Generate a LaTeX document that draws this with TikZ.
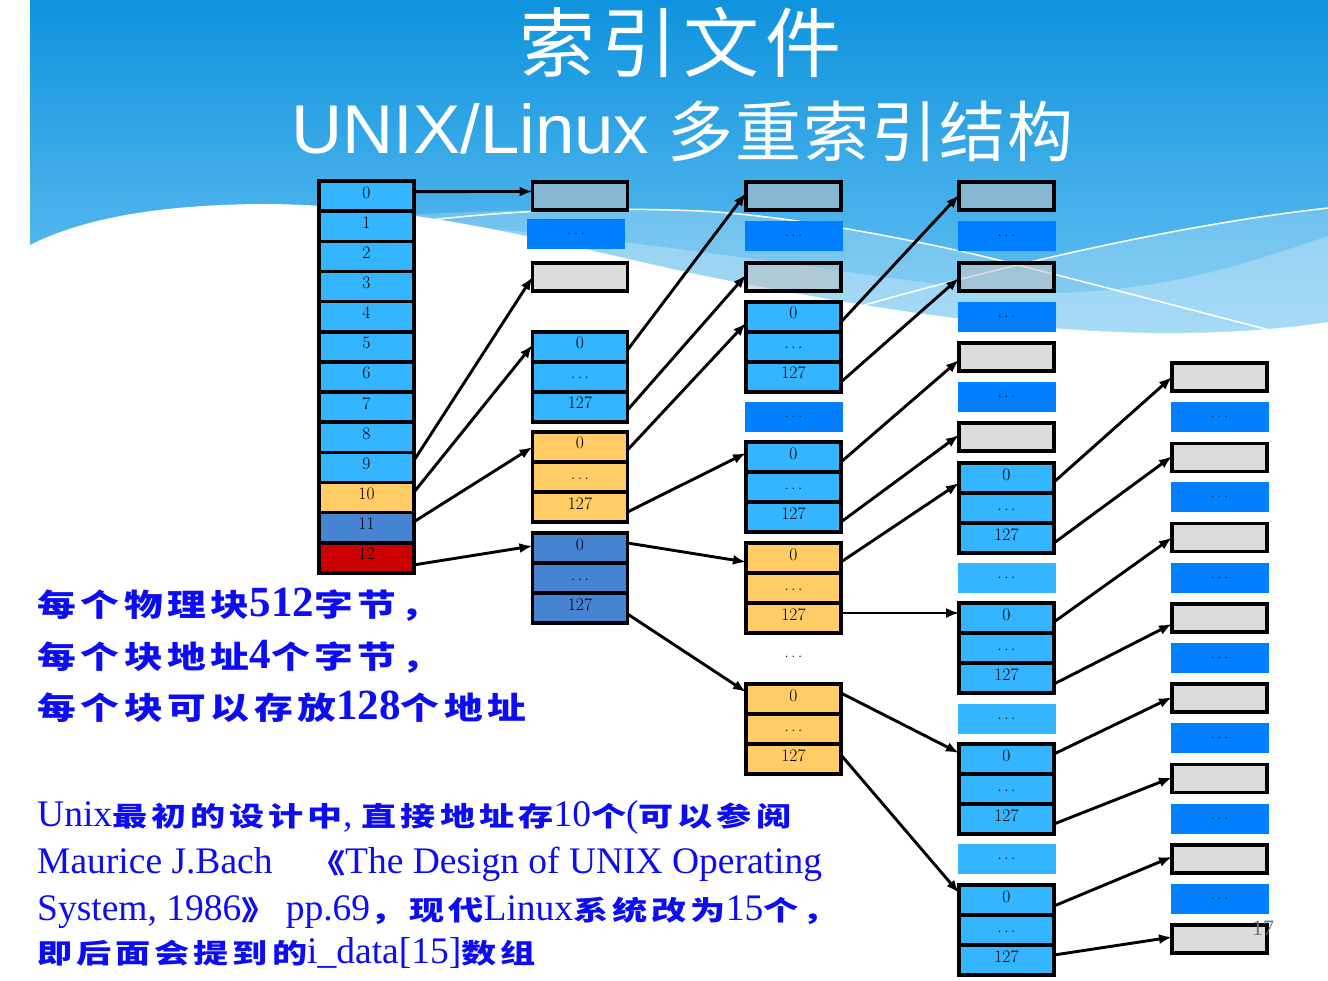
\documentclass[tikz,border=0pt]{standalone}
\usepackage{fontspec}
\usetikzlibrary{arrows.meta}
\newfontfamily\tnr{Liberation Serif}
\newfontfamily\lsans{Liberation Sans}
\newfontfamily\cjkA[FakeStretch=1.25,LetterSpace=15]{Noto Sans CJK SC}
\newfontfamily\cjkP[FakeStretch=1.3,LetterSpace=15]{Noto Sans CJK SC}
\newfontfamily\cjkT[LetterSpace=8]{Noto Sans CJK SC}
\newfontfamily\cjkU[LetterSpace=3]{Noto Sans CJK SC}
\definecolor{cellblue}{RGB}{51,182,255}
\definecolor{dotblue}{RGB}{0,128,255}
\definecolor{cellorange}{RGB}{255,204,102}
\definecolor{cellsteel}{RGB}{70,132,210}
\definecolor{cellred}{RGB}{204,0,0}
\definecolor{boxgray}{RGB}{192,192,192}
\definecolor{txtblue}{RGB}{12,12,245}
\definecolor{skytop}{RGB}{14,147,222}
\definecolor{skybot}{RGB}{110,197,243}
\definecolor{pagegray}{RGB}{105,110,120}
\newcommand\labfont{\fontsize{17.5pt}{20pt}\selectfont}
\newcommand\dotsfont{\fontsize{17pt}{18pt}\selectfont}
\newcommand\tdots{.\kern0.15em.\kern0.15em.}
\newcommand\tcj{\fontsize{31pt}{36pt}\cjkA\bfseries}
\newcommand\tlat{\fontsize{43pt}{46pt}\tnr}
\newcommand\pcj{\fontsize{27pt}{32pt}\cjkP\bfseries}
\newcommand\plat{\fontsize{37.5pt}{42pt}\tnr}
\newcommand{\idxblock}[4]{%
  \node[cellbase, fill=#4] (#1r0) at (#2,#3+15) {0};
  \node[cellbase, fill=#4] (#1r1) at (#2,#3+45) {\dotsfont\tdots};
  \node[cellbase, fill=#4] (#1r2) at (#2,#3+75) {127};
}
\tikzset{
  cellbase/.style={draw=black, line width=3.6pt, inner sep=0pt, outer sep=0pt,
    minimum width=95pt, minimum height=30pt, text height=12pt, text depth=8pt, font=\labfont},
  gbox/.style={draw=black, line width=3.6pt, fill=boxgray, fill opacity=0.54, draw opacity=1,
    minimum width=95pt, minimum height=28pt, inner sep=0pt, outer sep=0pt},
  dbox/.style={fill=dotblue, minimum width=98pt, minimum height=30pt, inner sep=0pt, outer sep=0pt, font=\dotsfont},
  lbox/.style={dbox, fill=cellblue},
  arr/.style={draw=black, line width=2.9pt, -{Latex[length=13pt,width=10pt]}},
  btxt/.style={anchor=base west, inner sep=0pt, text=txtblue},
}
\begin{document}
\begin{tikzpicture}[x=1pt,y=-1pt]
\useasboundingbox (0,0) rectangle (1328,981);
% background
\fill[white] (0,0) rectangle (1328,981);
\shade[top color=skytop, bottom color=skybot] (30,0) rectangle (1328,350);
\fill[white, fill opacity=0.22] (380,216) .. controls (500,210) and (600,207) .. (700,211)
  .. controls (800,216) and (950,247) .. (1018,265)
  .. controls (1120,240) and (1230,218) .. (1328,208) -- (1328,400) -- (380,400) -- cycle;
\fill[white, fill opacity=0.25] (430,226) .. controls (600,232) and (800,268) .. (1000,292)
  .. controls (1150,300) and (1250,262) .. (1328,236) -- (1328,400) -- (430,400) -- cycle;
\fill[white] (30,245) .. controls (90,215) and (170,205) .. (260,204)
  .. controls (420,204) and (560,245) .. (700,275)
  .. controls (850,305) and (1000,330) .. (1150,333)
  .. controls (1230,334) and (1290,328) .. (1328,322) -- (1328,981) -- (30,981) -- cycle;
\draw[white, line width=1.5pt] (430,220) .. controls (520,210) and (600,207) .. (700,211)
  .. controls (800,216) and (950,247) .. (1018,265) .. controls (1100,286) and (1200,312) .. (1300,338);
\draw[white, line width=1.5pt] (840,312) .. controls (950,280) and (1150,228) .. (1328,208);
% titles
\node[anchor=base west, inner sep=0pt, text=white] (title) at (519,72) {\fontsize{76pt}{80pt}\cjkT 索引文件};
\node[anchor=base west, inner sep=0pt, text=white] (sub1) at (291,154) {\resizebox{358pt}{50pt}{\lsans UNIX/Linux}};
\node[anchor=base west, inner sep=0pt, text=white] (sub2) at (667,157) {\fontsize{66pt}{70pt}\cjkU 多重索引结构};
% column 0
\foreach \i/\c in {0/cellblue,1/cellblue,2/cellblue,3/cellblue,4/cellblue,5/cellblue,6/cellblue,7/cellblue,8/cellblue,9/cellblue,10/cellorange,11/cellsteel,12/cellred}
  \node[cellbase, fill=\c, minimum height=30.15pt] (c\i) at (366.5,{196.1+30.15*\i}) {\i};
% column 1
\node[gbox] (g1a) at (580,196) {};
\node[dbox] (d1a) at (576,234) {\tdots};
\node[gbox] (g1b) at (580,277) {};
\idxblock{b1}{580}{332}{cellblue}
\idxblock{o1}{580}{432}{cellorange}
\idxblock{s1}{580}{533}{cellsteel}
% column 2
\node[gbox] (g2a) at (793.5,196) {};
\node[dbox] (d2a) at (793.5,236) {\tdots};
\node[gbox] (g2b) at (793.5,277) {};
\idxblock{b2a}{793.5}{302}{cellblue}
\node[dbox] (d2b) at (793.5,417) {\tdots};
\idxblock{b2b}{793.5}{442}{cellblue}
\idxblock{o2a}{793.5}{543}{cellorange}
\node[font=\dotsfont, inner sep=0pt] (dd2) at (793.5,657) {\tdots};
\idxblock{o2b}{793.5}{684}{cellorange}
% column 3
\node[gbox] (g3a) at (1006.5,196) {};
\node[dbox] (d3a) at (1006.5,236) {\tdots};
\node[gbox] (g3b) at (1006.5,277) {};
\node[dbox] (d3b) at (1006.5,317) {\tdots};
\node[gbox] (g3c) at (1006.5,357) {};
\node[dbox] (d3c) at (1006.5,397) {\tdots};
\node[gbox] (g3d) at (1006.5,437) {};
\idxblock{b3a}{1006.5}{463}{cellblue}
\node[lbox] (l3a) at (1006.5,578) {\tdots};
\idxblock{b3b}{1006.5}{603}{cellblue}
\node[lbox] (l3b) at (1006.5,719) {\tdots};
\idxblock{b3c}{1006.5}{744}{cellblue}
\node[lbox] (l3c) at (1006.5,859) {\tdots};
\idxblock{b3d}{1006.5}{885}{cellblue}
% column 4
\foreach \k in {1,...,8}
  \node[gbox] (g4\k) at (1219.5,{377+80.3*(\k-1)}) {};
\foreach \k in {1,...,7}
  \node[dbox] (d4\k) at (1219.5,{417+80.3*(\k-1)}) {\tdots};
% arrows col0 -> col1
\draw[arr] ([yshift=4.5pt]c0.east) -- ([yshift=4.5pt]g1a.west);
\draw[arr] ([yshift=7pt]c9.east) -- (g1b.west);
\draw[arr] ([yshift=5.5pt]c10.east) -- ([yshift=2pt]b1r0.west);
\draw[arr] ([yshift=6pt]c11.east) -- (o1r0.west);
\draw[arr] ([yshift=-7pt]c12.east) -- ([yshift=2pt]s1r0.west);
% col1 -> col2
\draw[arr] ([yshift=-3pt]b1r0.east) -- ([yshift=3pt]g2a.west);
\draw[arr] ([yshift=-3pt]b1r2.east) -- ([yshift=2pt]g2b.west);
\draw[arr] ([yshift=-3pt]o1r0.east) -- ([yshift=-6pt]b2ar0.west);
\draw[arr] ([yshift=-5pt]o1r2.east) -- ([yshift=4pt]b2br0.west);
\draw[arr] ([yshift=5pt]s1r0.east) -- ([yshift=-4pt]o2ar0.west);
\draw[arr] ([yshift=-6pt]s1r2.east) -- ([yshift=7pt]o2br0.west);
% col2 -> col3
\draw[arr] ([yshift=-5pt]b2ar0.east) -- ([yshift=1pt]g3a.west);
\draw[arr] ([yshift=-5pt]b2ar2.east) -- ([yshift=-1pt]g3b.west);
\draw[arr] ([yshift=-5pt]b2br0.east) -- ([yshift=-3pt]g3c.west);
\draw[arr] ([yshift=-5pt]b2br2.east) -- ([yshift=2pt]g3d.west);
\draw[arr] ([yshift=-4pt]o2ar0.east) -- ([yshift=-5pt]b3ar0.west);
\draw[arr, line width=1.8pt] ([yshift=5pt]o2ar2.east) -- ([yshift=5pt]b3br0.west);
\draw[arr] ([yshift=6pt]o2br0.east) -- ([yshift=6pt]b3cr0.west);
\draw[arr] ([yshift=4pt]o2br2.east) -- ([yshift=7pt]b3dr0.west);
% col3 -> col4
\draw[arr] ([yshift=-4pt]b3ar0.east) -- (g41.west);
\draw[arr] ([yshift=-5pt]b3ar2.east) -- ([yshift=1pt]g42.west);
\draw[arr] ([yshift=-4pt]b3br0.east) -- (g43.west);
\draw[arr] ([yshift=-6pt]b3br2.east) -- ([yshift=-6pt]g44.west);
\draw[arr] ([yshift=5pt]b3cr0.east) -- ([yshift=1pt]g45.west);
\draw[arr] ([yshift=-5pt]b3cr2.east) -- ([yshift=1pt]g46.west);
\draw[arr] ([yshift=-6pt]b3dr0.east) -- ([yshift=2pt]g47.west);
\draw[arr] ([yshift=5pt]b3dr2.east) -- ([yshift=2pt]g48.west);
% blue text
\node[btxt] (ta) at (37,616) {\tcj 每个物理块{\tlat 512}字节，};
\node[btxt] (tb) at (37,668) {\tcj 每个块地址{\tlat 4}个字节，};
\node[btxt] (tc) at (37,719) {\tcj 每个块可以存放{\tlat 128}个地址};
\node[btxt] (p1) at (37,826) {\plat Unix{\pcj 最初的设计中}, {\pcj 直接地址存}10{\pcj 个}({\pcj 可以参阅}};
\node[btxt] (p2) at (37,873) {\plat Maurice J.Bach\quad{\pcj 《}The Design of UNIX Operating};
\node[btxt] (p3) at (37,920) {\plat System, 1986{\pcj 》} pp.69{\pcj ，现代}Linux{\pcj 系统改为}15{\pcj 个，}};
\node[btxt] (p4) at (37,963) {\plat {\pcj 即后面会提到的}i\_data[15]{\pcj 数组}};
% page number
\node[text=pagegray, inner sep=0pt, font=\fontsize{22pt}{24pt}\tnr] (pg) at (1263,928) {17};
\end{tikzpicture}
\end{document}
